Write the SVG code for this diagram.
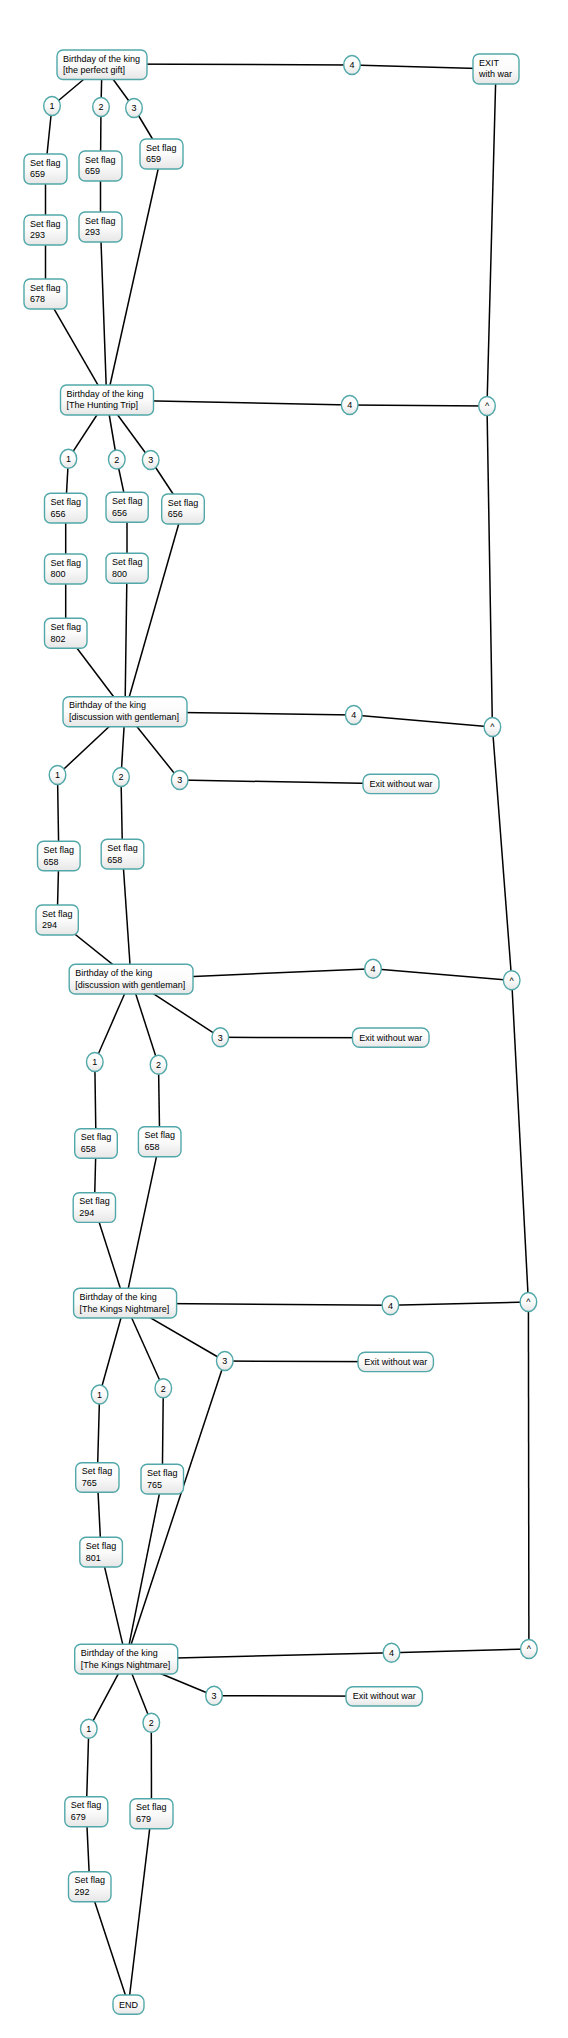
<svg xmlns="http://www.w3.org/2000/svg" width="568" height="2038" viewBox="0 0 568 2038">
<defs>
<linearGradient id="g" x1="0" y1="0" x2="0" y2="1">
<stop offset="0" stop-color="#ffffff"/>
<stop offset="0.5" stop-color="#fbfbfb"/>
<stop offset="1" stop-color="#e6e6e6"/>
</linearGradient>
<style>
.n{fill:url(#g);stroke:#52a8a9;stroke-width:1.4}
.t{font-family:"Liberation Sans",Arial,sans-serif;font-size:9px;fill:#000}
.m{text-anchor:middle}
.e line{stroke:#000;stroke-width:1.5}
</style>
</defs>
<rect width="568" height="2038" fill="#fff"/>
<g class="e">
<!-- A level -->
<line x1="102" y1="64" x2="52" y2="106"/>
<line x1="52" y1="106" x2="45.5" y2="169"/>
<line x1="45.5" y1="169" x2="45.5" y2="230"/>
<line x1="45.5" y1="230" x2="45.5" y2="294"/>
<line x1="45.5" y1="294" x2="106.7" y2="400"/>
<line x1="102" y1="64" x2="101" y2="107"/>
<line x1="101" y1="107" x2="100.5" y2="166"/>
<line x1="100.5" y1="166" x2="100.5" y2="227"/>
<line x1="100.5" y1="227" x2="106.7" y2="400"/>
<line x1="102" y1="64" x2="134" y2="108"/>
<line x1="134" y1="108" x2="161.5" y2="154"/>
<line x1="161.5" y1="154" x2="106.7" y2="400"/>
<line x1="102" y1="64" x2="352" y2="65"/>
<line x1="352" y1="65" x2="496" y2="69"/>
<line x1="496" y1="69" x2="487" y2="406"/>
<!-- B level -->
<line x1="106.7" y1="400" x2="68.4" y2="458.7"/>
<line x1="68.4" y1="458.7" x2="65.7" y2="508"/>
<line x1="65.7" y1="508" x2="65.7" y2="569"/>
<line x1="65.7" y1="569" x2="65.7" y2="633.3"/>
<line x1="65.7" y1="633.3" x2="125" y2="711.7"/>
<line x1="106.7" y1="400" x2="116.8" y2="459.5"/>
<line x1="116.8" y1="459.5" x2="127" y2="507.3"/>
<line x1="127" y1="507.3" x2="127" y2="568.3"/>
<line x1="127" y1="568.3" x2="125" y2="711.7"/>
<line x1="106.7" y1="400" x2="150.7" y2="460"/>
<line x1="150.7" y1="460" x2="183" y2="509"/>
<line x1="183" y1="509" x2="125" y2="711.7"/>
<line x1="106.7" y1="400" x2="349.7" y2="405"/>
<line x1="349.7" y1="405" x2="487" y2="406"/>
<line x1="487" y1="406" x2="492.4" y2="727"/>
<!-- C level -->
<line x1="125" y1="711.7" x2="57.5" y2="775"/>
<line x1="57.5" y1="775" x2="58.8" y2="856"/>
<line x1="58.8" y1="856" x2="57.2" y2="920"/>
<line x1="57.2" y1="920" x2="131" y2="979.2"/>
<line x1="125" y1="711.7" x2="121" y2="777"/>
<line x1="121" y1="777" x2="122.5" y2="854.2"/>
<line x1="122.5" y1="854.2" x2="131" y2="979.2"/>
<line x1="125" y1="711.7" x2="179.7" y2="780"/>
<line x1="179.7" y1="780" x2="401" y2="784"/>
<line x1="125" y1="711.7" x2="353.8" y2="715"/>
<line x1="353.8" y1="715" x2="492.4" y2="727"/>
<line x1="492.4" y1="727" x2="511.7" y2="980.3"/>
<!-- D level -->
<line x1="131" y1="979.2" x2="94.8" y2="1062"/>
<line x1="94.8" y1="1062" x2="96" y2="1143.5"/>
<line x1="96" y1="1143.5" x2="94.4" y2="1207.5"/>
<line x1="94.4" y1="1207.5" x2="125.1" y2="1303.2"/>
<line x1="131" y1="979.2" x2="158.5" y2="1064.7"/>
<line x1="158.5" y1="1064.7" x2="159.7" y2="1141.7"/>
<line x1="159.7" y1="1141.7" x2="125.1" y2="1303.2"/>
<line x1="131" y1="979.2" x2="220.3" y2="1037.3"/>
<line x1="220.3" y1="1037.3" x2="390.7" y2="1037.7"/>
<line x1="131" y1="979.2" x2="373" y2="968.7"/>
<line x1="373" y1="968.7" x2="511.7" y2="980.3"/>
<line x1="511.7" y1="980.3" x2="528.4" y2="1302"/>
<!-- E level -->
<line x1="125.1" y1="1303.2" x2="99.6" y2="1394.5"/>
<line x1="99.6" y1="1394.5" x2="97.3" y2="1477.5"/>
<line x1="97.3" y1="1477.5" x2="101.1" y2="1552.2"/>
<line x1="101.1" y1="1552.2" x2="126.2" y2="1659.2"/>
<line x1="125.1" y1="1303.2" x2="163.3" y2="1388.3"/>
<line x1="163.3" y1="1388.3" x2="162.3" y2="1479.2"/>
<line x1="162.3" y1="1479.2" x2="126.2" y2="1659.2"/>
<line x1="125.1" y1="1303.2" x2="224.8" y2="1361"/>
<line x1="224.8" y1="1361" x2="395.7" y2="1361.8"/>
<line x1="224.8" y1="1361" x2="126.2" y2="1659.2"/>
<line x1="125.1" y1="1303.2" x2="390.4" y2="1305.3"/>
<line x1="390.4" y1="1305.3" x2="528.4" y2="1302"/>
<line x1="528.4" y1="1302" x2="528.9" y2="1649"/>
<!-- F level -->
<line x1="126.2" y1="1659.2" x2="88.8" y2="1728.8"/>
<line x1="88.8" y1="1728.8" x2="86.3" y2="1811.7"/>
<line x1="86.3" y1="1811.7" x2="89.8" y2="1886.7"/>
<line x1="89.8" y1="1886.7" x2="128.5" y2="2004.6"/>
<line x1="126.2" y1="1659.2" x2="151.3" y2="1722.8"/>
<line x1="151.3" y1="1722.8" x2="151.5" y2="1813.7"/>
<line x1="151.5" y1="1813.7" x2="128.5" y2="2004.6"/>
<line x1="126.2" y1="1659.2" x2="214" y2="1695.7"/>
<line x1="214" y1="1695.7" x2="384.2" y2="1696.2"/>
<line x1="126.2" y1="1659.2" x2="391.5" y2="1652.7"/>
<line x1="391.5" y1="1652.7" x2="528.9" y2="1649"/>
</g>

<!-- A level nodes -->
<g id="A"><rect class="n" x="57" y="50" width="90" height="29.5" rx="6"/><text class="t" x="63" y="61.7">Birthday of the king</text><text class="t" x="63" y="73.3">[the perfect gift]</text></g>
<g id="A1"><ellipse class="n" cx="52" cy="106" rx="8.3" ry="9.5"/><text class="t m" x="52" y="109.2">1</text></g>
<g id="A2"><ellipse class="n" cx="101" cy="107" rx="8.3" ry="9.5"/><text class="t m" x="101" y="110.2">2</text></g>
<g id="A3"><ellipse class="n" cx="134" cy="108" rx="8.3" ry="9.5"/><text class="t m" x="134" y="111.2">3</text></g>
<g id="A4"><ellipse class="n" cx="352" cy="65" rx="8.3" ry="9.5"/><text class="t m" x="352" y="68.2">4</text></g>
<g id="EXIT"><rect class="n" x="473" y="54" width="46" height="30" rx="6"/><text class="t" x="479" y="65.7">EXIT</text><text class="t" x="479" y="77.3">with war</text></g>
<g id="F659a"><rect class="n" x="24" y="154" width="43" height="30" rx="6"/><text class="t" x="30" y="165.7">Set flag</text><text class="t" x="30" y="177.3">659</text></g>
<g id="F659b"><rect class="n" x="79" y="151" width="43" height="30" rx="6"/><text class="t" x="85" y="162.7">Set flag</text><text class="t" x="85" y="174.3">659</text></g>
<g id="F659c"><rect class="n" x="140" y="139" width="43" height="30" rx="6"/><text class="t" x="146" y="150.7">Set flag</text><text class="t" x="146" y="162.3">659</text></g>
<g id="F293a"><rect class="n" x="24" y="215" width="43" height="30" rx="6"/><text class="t" x="30" y="226.7">Set flag</text><text class="t" x="30" y="238.3">293</text></g>
<g id="F293b"><rect class="n" x="79" y="212" width="43" height="30" rx="6"/><text class="t" x="85" y="223.7">Set flag</text><text class="t" x="85" y="235.3">293</text></g>
<g id="F678"><rect class="n" x="24" y="279" width="43" height="30" rx="6"/><text class="t" x="30" y="290.7">Set flag</text><text class="t" x="30" y="302.3">678</text></g>

<!-- B level nodes -->
<g id="B"><rect class="n" x="60.5" y="385" width="93" height="30" rx="6"/><text class="t" x="66.5" y="396.7">Birthday of the king</text><text class="t" x="66.5" y="408.3">[The Hunting Trip]</text></g>
<g id="B1"><ellipse class="n" cx="68.4" cy="458.7" rx="8.3" ry="9.5"/><text class="t m" x="68.4" y="461.9">1</text></g>
<g id="B2"><ellipse class="n" cx="116.8" cy="459.5" rx="8.3" ry="9.5"/><text class="t m" x="116.8" y="462.7">2</text></g>
<g id="B3"><ellipse class="n" cx="150.7" cy="460" rx="8.3" ry="9.5"/><text class="t m" x="150.7" y="463.2">3</text></g>
<g id="B4"><ellipse class="n" cx="349.7" cy="405" rx="8.3" ry="9.5"/><text class="t m" x="349.7" y="408.2">4</text></g>
<g id="Bx"><ellipse class="n" cx="487" cy="406" rx="8.3" ry="9.5"/><text class="t m" x="487" y="409.2">^</text></g>
<g id="F656a"><rect class="n" x="44.5" y="493.3" width="42.5" height="29.7" rx="6"/><text class="t" x="50.5" y="505">Set flag</text><text class="t" x="50.5" y="516.6">656</text></g>
<g id="F656b"><rect class="n" x="106" y="492.3" width="42.2" height="30" rx="6"/><text class="t" x="112" y="504">Set flag</text><text class="t" x="112" y="515.6">656</text></g>
<g id="F656c"><rect class="n" x="161.7" y="494" width="42.6" height="30" rx="6"/><text class="t" x="167.7" y="505.7">Set flag</text><text class="t" x="167.7" y="517.3">656</text></g>
<g id="F800a"><rect class="n" x="44.5" y="554" width="42.5" height="30" rx="6"/><text class="t" x="50.5" y="565.7">Set flag</text><text class="t" x="50.5" y="577.3">800</text></g>
<g id="F800b"><rect class="n" x="106" y="553.3" width="42.2" height="30" rx="6"/><text class="t" x="112" y="565">Set flag</text><text class="t" x="112" y="576.6">800</text></g>
<g id="F802"><rect class="n" x="44.5" y="618.3" width="42.5" height="30" rx="6"/><text class="t" x="50.5" y="630">Set flag</text><text class="t" x="50.5" y="641.6">802</text></g>

<!-- C level nodes -->
<g id="C"><rect class="n" x="63" y="696.7" width="124" height="30" rx="6"/><text class="t" x="69" y="708.4">Birthday of the king</text><text class="t" x="69" y="720">[discussion with gentleman]</text></g>
<g id="C1"><ellipse class="n" cx="57.5" cy="775" rx="8.3" ry="9.5"/><text class="t m" x="57.5" y="778.2">1</text></g>
<g id="C2"><ellipse class="n" cx="121" cy="777" rx="8.3" ry="9.5"/><text class="t m" x="121" y="780.2">2</text></g>
<g id="C3"><ellipse class="n" cx="179.7" cy="780" rx="8.3" ry="9.5"/><text class="t m" x="179.7" y="783.2">3</text></g>
<g id="C4"><ellipse class="n" cx="353.8" cy="715" rx="8.3" ry="9.5"/><text class="t m" x="353.8" y="718.2">4</text></g>
<g id="Cx"><ellipse class="n" cx="492.4" cy="727" rx="8.3" ry="9.5"/><text class="t m" x="492.4" y="730.2">^</text></g>
<g id="ExitC"><rect class="n" x="363" y="774.3" width="76" height="19.3" rx="7"/><text class="t m" x="401" y="787">Exit without war</text></g>
<g id="F658a"><rect class="n" x="37.5" y="841.3" width="42.6" height="29.5" rx="6"/><text class="t" x="43.5" y="853">Set flag</text><text class="t" x="43.5" y="864.6">658</text></g>
<g id="F658b"><rect class="n" x="101.2" y="839.3" width="42.6" height="29.7" rx="6"/><text class="t" x="107.2" y="851">Set flag</text><text class="t" x="107.2" y="862.6">658</text></g>
<g id="F294a"><rect class="n" x="36" y="905" width="42.3" height="30" rx="6"/><text class="t" x="42" y="916.7">Set flag</text><text class="t" x="42" y="928.3">294</text></g>

<!-- D level nodes -->
<g id="D"><rect class="n" x="69.2" y="964.3" width="123.8" height="29.7" rx="6"/><text class="t" x="75.2" y="976">Birthday of the king</text><text class="t" x="75.2" y="987.6">[discussion with gentleman]</text></g>
<g id="D1"><ellipse class="n" cx="94.8" cy="1062" rx="8.3" ry="9.5"/><text class="t m" x="94.8" y="1065.2">1</text></g>
<g id="D2"><ellipse class="n" cx="158.5" cy="1064.7" rx="8.3" ry="9.5"/><text class="t m" x="158.5" y="1067.9">2</text></g>
<g id="D3"><ellipse class="n" cx="220.3" cy="1037.3" rx="8.3" ry="9.5"/><text class="t m" x="220.3" y="1040.5">3</text></g>
<g id="D4"><ellipse class="n" cx="373" cy="968.7" rx="8.3" ry="9.5"/><text class="t m" x="373" y="971.9">4</text></g>
<g id="Dx"><ellipse class="n" cx="511.7" cy="980.3" rx="8.3" ry="9.5"/><text class="t m" x="511.7" y="983.5">^</text></g>
<g id="ExitD"><rect class="n" x="352.5" y="1028" width="76.5" height="19.3" rx="7"/><text class="t m" x="390.7" y="1040.7">Exit without war</text></g>
<g id="F658c"><rect class="n" x="74.7" y="1128.7" width="42.6" height="29.6" rx="6"/><text class="t" x="80.7" y="1140.4">Set flag</text><text class="t" x="80.7" y="1152">658</text></g>
<g id="F658d"><rect class="n" x="138.4" y="1126.7" width="42.6" height="30" rx="6"/><text class="t" x="144.4" y="1138.4">Set flag</text><text class="t" x="144.4" y="1150">658</text></g>
<g id="F294b"><rect class="n" x="73.2" y="1192.7" width="42.3" height="29.7" rx="6"/><text class="t" x="79.2" y="1204.4">Set flag</text><text class="t" x="79.2" y="1216">294</text></g>

<!-- E level nodes -->
<g id="E"><rect class="n" x="73.6" y="1288.3" width="103" height="29.7" rx="6"/><text class="t" x="79.6" y="1300">Birthday of the king</text><text class="t" x="79.6" y="1311.6">[The Kings Nightmare]</text></g>
<g id="E1"><ellipse class="n" cx="99.6" cy="1394.5" rx="8.3" ry="9.5"/><text class="t m" x="99.6" y="1397.7">1</text></g>
<g id="E2"><ellipse class="n" cx="163.3" cy="1388.3" rx="8.3" ry="9.5"/><text class="t m" x="163.3" y="1391.5">2</text></g>
<g id="E3"><ellipse class="n" cx="224.8" cy="1361" rx="8.3" ry="9.5"/><text class="t m" x="224.8" y="1364.2">3</text></g>
<g id="E4"><ellipse class="n" cx="390.4" cy="1305.3" rx="8.3" ry="9.5"/><text class="t m" x="390.4" y="1308.5">4</text></g>
<g id="Ex"><ellipse class="n" cx="528.4" cy="1302" rx="8.3" ry="9.5"/><text class="t m" x="528.4" y="1305.2">^</text></g>
<g id="ExitE"><rect class="n" x="358" y="1352.3" width="75.4" height="19.3" rx="7"/><text class="t m" x="395.7" y="1365">Exit without war</text></g>
<g id="F765a"><rect class="n" x="75.7" y="1462.7" width="43.3" height="29.6" rx="6"/><text class="t" x="81.7" y="1474.4">Set flag</text><text class="t" x="81.7" y="1486">765</text></g>
<g id="F765b"><rect class="n" x="141" y="1464.3" width="42.5" height="29.7" rx="6"/><text class="t" x="147" y="1476">Set flag</text><text class="t" x="147" y="1487.6">765</text></g>
<g id="F801"><rect class="n" x="79.8" y="1537.3" width="42.6" height="29.7" rx="6"/><text class="t" x="85.8" y="1549">Set flag</text><text class="t" x="85.8" y="1560.6">801</text></g>

<!-- F level nodes -->
<g id="F"><rect class="n" x="74.7" y="1644.3" width="103" height="29.7" rx="6"/><text class="t" x="80.7" y="1656">Birthday of the king</text><text class="t" x="80.7" y="1667.6">[The Kings Nightmare]</text></g>
<g id="F1"><ellipse class="n" cx="88.8" cy="1728.8" rx="8.3" ry="9.5"/><text class="t m" x="88.8" y="1732">1</text></g>
<g id="F2"><ellipse class="n" cx="151.3" cy="1722.8" rx="8.3" ry="9.5"/><text class="t m" x="151.3" y="1726">2</text></g>
<g id="F3"><ellipse class="n" cx="214" cy="1695.7" rx="8.3" ry="9.5"/><text class="t m" x="214" y="1698.9">3</text></g>
<g id="F4"><ellipse class="n" cx="391.5" cy="1652.7" rx="8.3" ry="9.5"/><text class="t m" x="391.5" y="1655.9">4</text></g>
<g id="Fx"><ellipse class="n" cx="528.9" cy="1649" rx="8.3" ry="9.5"/><text class="t m" x="528.9" y="1652.2">^</text></g>
<g id="ExitF"><rect class="n" x="346" y="1686.7" width="76.4" height="19.3" rx="7"/><text class="t m" x="384.2" y="1699.4">Exit without war</text></g>
<g id="F679a"><rect class="n" x="64.8" y="1796.7" width="43" height="30" rx="6"/><text class="t" x="70.8" y="1808.4">Set flag</text><text class="t" x="70.8" y="1820">679</text></g>
<g id="F679b"><rect class="n" x="130" y="1798.7" width="43" height="30" rx="6"/><text class="t" x="136" y="1810.4">Set flag</text><text class="t" x="136" y="1822">679</text></g>
<g id="F292"><rect class="n" x="68.5" y="1871.7" width="42.5" height="30" rx="6"/><text class="t" x="74.5" y="1883.4">Set flag</text><text class="t" x="74.5" y="1895">292</text></g>
<g id="END"><rect class="n" x="113" y="1995" width="31" height="19.3" rx="7"/><text class="t m" x="128.5" y="2007.7">END</text></g>
</svg>
